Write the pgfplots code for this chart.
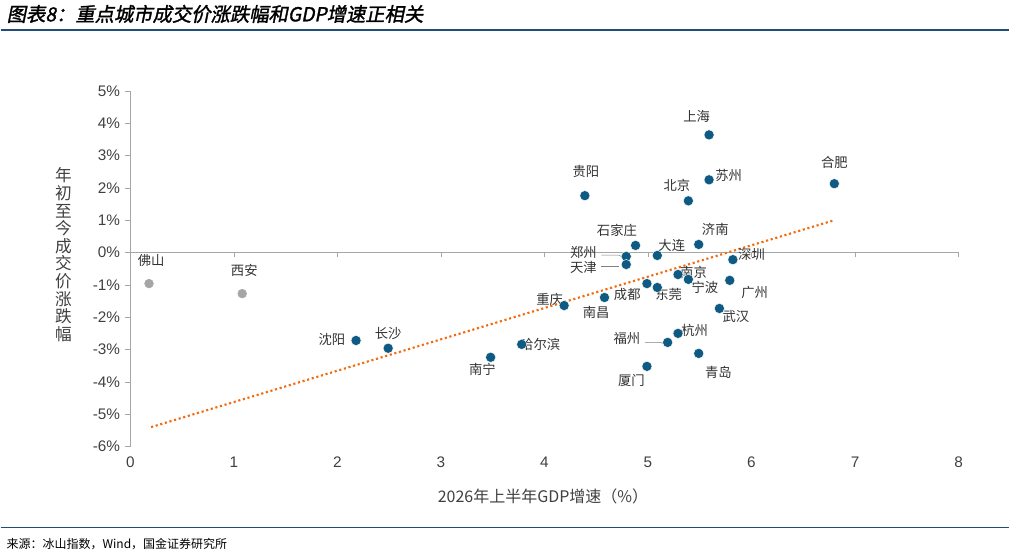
\documentclass[border=0pt]{standalone}
\usepackage{pgfplots}
\pgfplotsset{compat=1.18}
\usepackage{fontspec}
\setmainfont{Liberation Sans}
\newfontfamily\cjk{Noto Sans CJK SC}
\newfontfamily\cjkti[FakeSlant=0.2,FakeBold=1.5]{Noto Sans CJK SC}
\definecolor{pt}{HTML}{0E5A82}
\definecolor{gr}{HTML}{A6A6A6}
\definecolor{tr}{HTML}{F26B0E}
\definecolor{hb}{HTML}{1F4E79}
\begin{document}
\begin{tikzpicture}
\begin{axis}[scale only axis,
 width=621.75pt,height=267pt,xmin=0,xmax=8,ymin=-6,ymax=5,
 axis x line*=bottom, axis y line*=left,
 x axis line style={draw=none}, y axis line style={gr},
 xtick={0,...,8}, ytick={-6,...,5}, major x tick style={draw=none},
 major y tick style={gr}, tick align=outside,
 yticklabel={\pgfmathprintnumber{\tick}\%},
 /pgf/number format/assume math mode=true,
 tick label style={font=\fontsize{11.5}{13}\selectfont,text=black!75},
 clip=false]
\path (rel axis cs:-0.1568,1.2556) rectangle (rel axis cs:1.0615,-0.3062);
\node[anchor=west,font=\cjkti\fontsize{14.5}{16}\selectfont] at (rel axis cs:-0.155,1.2163) {图表8：重点城市成交价涨跌幅和GDP增速正相关};
\draw[hb,line width=0.8pt] (rel axis cs:-0.1568,1.1713) -- (rel axis cs:1.0615,1.1713);
\draw[hb,line width=0.6pt] (rel axis cs:-0.1568,-0.2275) -- (rel axis cs:1.0615,-0.2275);
\node[anchor=west,font=\cjk\fontsize{9}{11}\selectfont] at (rel axis cs:-0.155,-0.2753) {来源：冰山指数，Wind，国金证券研究所};
\node[font=\cjk\fontsize{12.5}{13.2}\selectfont,align=center,text width=14pt,text=black!75] at (rel axis cs:-0.0808,0.5393) {年\\初\\至\\今\\成\\交\\价\\涨\\跌\\幅};
\node[font=\cjk\fontsize{12}{13}\selectfont,text=black!75] at (rel axis cs:0.4982,-0.1404) {2026年上半年GDP增速（\%）};
\draw[gr] (axis cs:0,0) -- (axis cs:8,0);
\pgfplotsinvokeforeach{1,...,8}{\draw[gr] (axis cs:#1,0) -- (axis cs:#1,-0.15);}
\addplot[tr,line width=1.6pt,dotted] coordinates {(0.2,-5.4) (6.8,1.0)};
\addplot[only marks,mark=*,mark size=3.3pt,mark options={fill=gr,draw=gr}] coordinates {(0.18,-0.96) (1.08,-1.27)};
\addplot[only marks,mark=*,mark size=3.8pt,mark options={fill=pt,draw=white,line width=0.3pt}] coordinates {
(2.18,-2.72)(2.49,-2.96)(3.48,-3.24)(3.78,-2.84)(4.19,-1.64)(4.39,1.76)(4.58,-1.39)
(4.79,-0.12)(4.79,-0.37)(4.88,0.22)(4.99,-0.96)(4.99,-3.52)(5.09,-1.08)(5.09,-0.09)
(5.19,-2.78)(5.29,-0.68)(5.29,-2.5)(5.39,-0.83)(5.39,1.6)(5.49,-3.12)(5.49,0.25)
(5.59,3.64)(5.59,2.25)(5.69,-1.73)(5.79,-0.86)(5.82,-0.22)(6.8,2.13)};
\draw[black!50] (axis cs:4.55,-0.08) -- (axis cs:4.72,-0.08) -- (axis cs:4.79,-0.2);
\draw[black!50] (axis cs:4.55,-0.42) -- (axis cs:4.72,-0.42);
\draw[black!50] (axis cs:4.97,-2.78) -- (axis cs:5.12,-2.78) -- (axis cs:5.19,-2.86);
\begin{scope}[every node/.style={font=\cjk\fontsize{10}{11}\selectfont,text=black!80}]
\node at (axis cs:0.2,-0.25) {佛山};
\node at (axis cs:1.1,-0.55) {西安};
\node[left] at (axis cs:2.12,-2.68) {沈阳};
\node at (axis cs:2.49,-2.5) {长沙};
\node at (axis cs:3.4,-3.6) {南宁};
\node[right] at (axis cs:3.72,-2.84) {哈尔滨};
\node at (axis cs:4.05,-1.45) {重庆};
\node at (axis cs:4.4,2.5) {贵阳};
\node at (axis cs:4.5,-1.85) {南昌};
\node[left] at (axis cs:4.55,0.0) {郑州};
\node[left] at (axis cs:4.55,-0.46) {天津};
\node at (axis cs:4.7,0.68) {石家庄};
\node at (axis cs:4.8,-1.3) {成都};
\node at (axis cs:4.84,-3.95) {厦门};
\node at (axis cs:5.2,-1.3) {东莞};
\node at (axis cs:5.23,0.23) {大连};
\node[left] at (axis cs:4.97,-2.65) {福州};
\node at (axis cs:5.44,-0.6) {南京};
\node at (axis cs:5.45,-2.4) {杭州};
\node at (axis cs:5.55,-1.08) {宁波};
\node at (axis cs:5.28,2.07) {北京};
\node at (axis cs:5.68,-3.7) {青岛};
\node at (axis cs:5.65,0.7) {济南};
\node at (axis cs:5.47,4.2) {上海};
\node at (axis cs:5.78,2.4) {苏州};
\node at (axis cs:5.85,-1.98) {武汉};
\node at (axis cs:6.03,-1.25) {广州};
\node at (axis cs:6.0,-0.05) {深圳};
\node at (axis cs:6.8,2.8) {合肥};
\end{scope}
\end{axis}
\end{tikzpicture}
\end{document}
